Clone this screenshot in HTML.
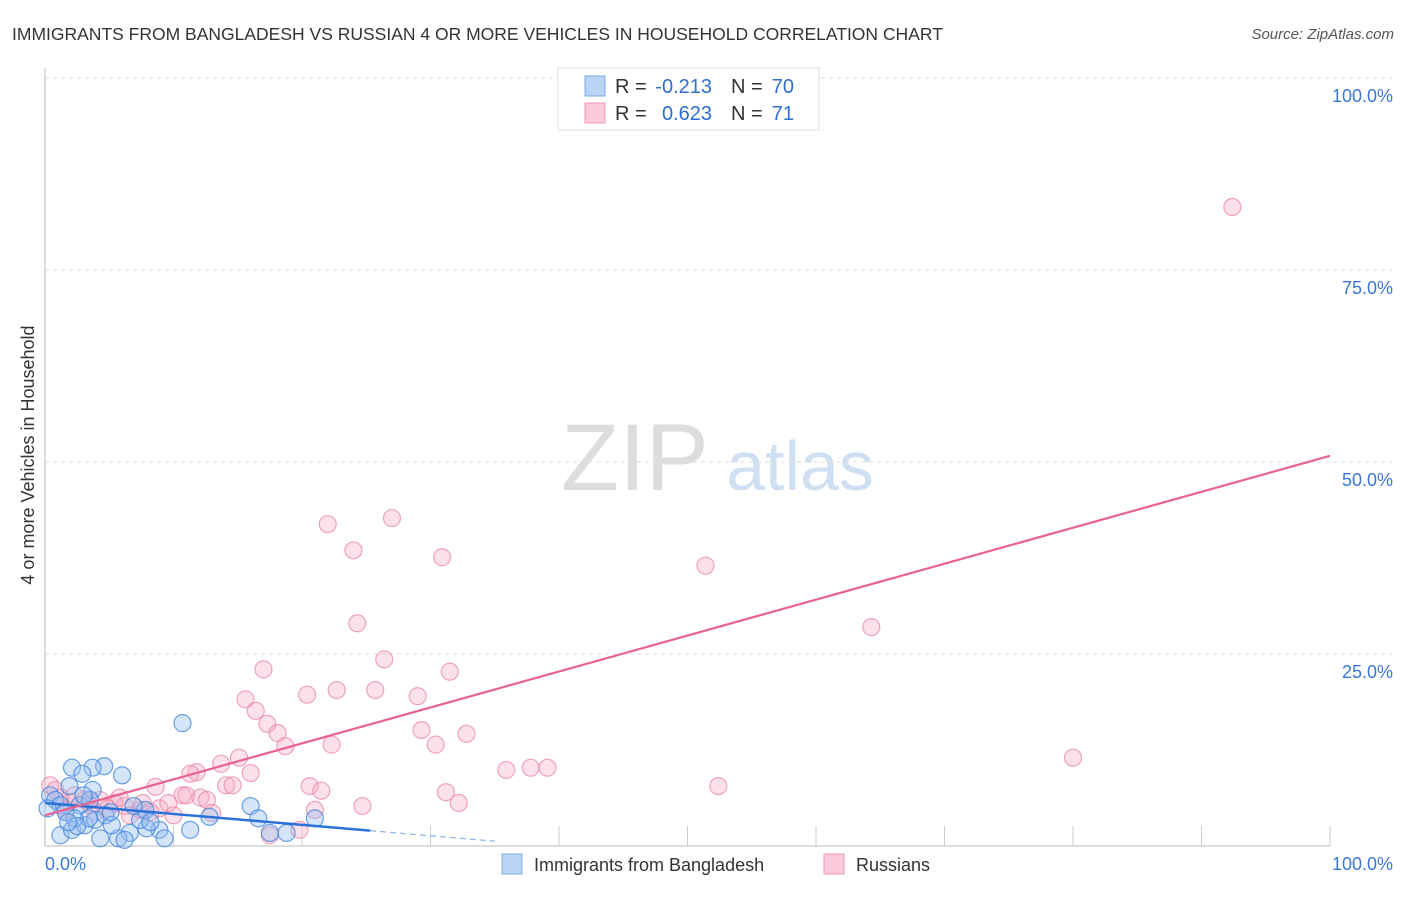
<!DOCTYPE html>
<html><head><meta charset="utf-8"><style>
body{margin:0;background:#fff;font-family:"Liberation Sans",sans-serif;}
svg text{font-family:"Liberation Sans",sans-serif;}
</style></head><body>
<svg width="1406" height="892">
<text x="12" y="40" font-size="17.5" fill="#333">IMMIGRANTS FROM BANGLADESH VS RUSSIAN 4 OR MORE VEHICLES IN HOUSEHOLD CORRELATION CHART</text>
<text x="1394" y="39" font-size="15" fill="#555" font-style="italic" text-anchor="end">Source: ZipAtlas.com</text>
<g><text x="635" y="490" font-size="95" fill="#ddd" font-family="Liberation Serif" text-anchor="middle">ZIP</text><text x="800" y="490" font-size="70" fill="#cfe0f3" text-anchor="middle">atlas</text></g>
<g id="grid"></g>
<g id="axes"></g>
<g id="marks"></g>
<text transform="translate(34,455) rotate(-90)" font-size="18" fill="#333" text-anchor="middle">4 or more Vehicles in Household</text>
<g>
<rect x="558" y="68" width="261" height="62" fill="#fff" stroke="#ddd"/>
<rect x="585" y="76" width="20" height="20" fill="#b9d3f5" stroke="#7aa9e6"/>
<rect x="585" y="103" width="20" height="20" fill="#fbcbd9" stroke="#ef9ab3"/>
<text x="615" y="93" font-size="20" fill="#333">R =</text>
<text x="712" y="93" font-size="20" fill="#2f6fd0" text-anchor="end">-0.213</text>
<text x="731" y="93" font-size="20" fill="#333">N =</text>
<text x="794" y="93" font-size="20" fill="#2f6fd0" text-anchor="end">70</text>
<text x="615" y="120" font-size="20" fill="#333">R =</text>
<text x="712" y="120" font-size="20" fill="#2f6fd0" text-anchor="end">0.623</text>
<text x="731" y="120" font-size="20" fill="#333">N =</text>
<text x="794" y="120" font-size="20" fill="#2f6fd0" text-anchor="end">71</text>
</g>
<g>
<rect x="502" y="854" width="20" height="20" fill="#b9d3f5" stroke="#7aa9e6"/>
<text x="534" y="871" font-size="18" fill="#333">Immigrants from Bangladesh</text>
<rect x="824" y="854" width="20" height="20" fill="#fbcbd9" stroke="#ef9ab3"/>
<text x="856" y="871" font-size="18" fill="#333">Russians</text>
</g>
</svg>
<script>
const yTicks=[25,50,75,100];
const yTickLabels=["25.0%","50.0%","75.0%","100.0%"];
const xTicks=[10,20,30,40,50,60,70,80,90,100];
const blueX=[10.7,4.6,2.1,3.7,2.9,6.0,1.9,3.7,0.4,0.8,1.2,0.2,1.6,2.7,3.5,16.0,16.6,21.0,12.8,11.3,18.8,17.5,8.9,7.9,6.6,5.7,4.3,1.2,2.1,3.1,3.9,4.7,5.2,3.4,2.3,7.4,7.8,6.9,9.3,6.2,2.5,1.8,5.1,8.2,3.0];
const blueY=[16.0,10.4,10.2,10.2,9.4,9.2,7.8,7.3,6.6,6.0,5.3,4.9,4.4,5.3,6.0,5.2,3.6,3.6,3.8,2.1,1.7,1.7,2.1,2.3,1.7,1.0,1.0,1.4,2.1,2.7,3.4,4.0,2.7,3.6,3.6,3.4,4.7,5.2,1.0,0.8,2.6,3.1,4.4,3.1,6.6];
const pinkX=[92.4,22.0,27.0,24.0,30.9,51.4,24.3,64.3,26.4,17.0,31.5,20.4,22.7,25.7,29.0,15.6,16.4,17.3,18.1,29.3,32.8,18.7,22.3,30.4,15.1,80.0,13.7,35.9,37.8,39.1,11.8,16.0,11.3,8.6,14.1,14.6,20.6,21.5,52.4,31.2,10.7,11.0,12.1,12.6,32.2,24.7,21.0,13.0,10.0,8.9,7.4,6.2,5.4,4.3,3.1,1.9,1.2,0.4,0.8,3.5,4.9,19.8,17.5,7.6,6.6,1.6,2.3,9.6,3.9,8.2,5.8];
const pinkY=[83.2,41.9,42.7,38.5,37.6,36.5,29.0,28.5,24.3,23.0,22.7,19.7,20.3,20.3,19.5,19.1,17.6,15.9,14.7,15.1,14.6,13.0,13.2,13.2,11.5,11.5,10.7,9.9,10.2,10.2,9.6,9.5,9.4,7.7,7.9,7.9,7.8,7.2,7.8,7.0,6.6,6.6,6.3,6.0,5.6,5.2,4.7,4.3,4.0,4.9,4.7,5.2,5.6,6.0,6.0,5.7,6.3,7.9,7.3,5.3,4.9,2.1,1.4,5.6,4.0,4.7,6.6,5.6,4.4,4.4,6.3];
const blueTrend=[5.6,2.0,25.3];
const pinkTrend=[4.0,50.8];
const NS="http://www.w3.org/2000/svg";
const sx=v=>45+v*12.85, sy=v=>846-v*7.68;
function mk(t,a,p){const e=document.createElementNS(NS,t);for(const k in a)e.setAttribute(k,a[k]);p.appendChild(e);return e;}
const grid=document.getElementById('grid'),axes=document.getElementById('axes'),marks=document.getElementById('marks');
yTicks.forEach((v,i)=>{
 const l=mk('line',{x1:45,x2:1393,y1:sy(v),y2:sy(v),stroke:'#ddd','stroke-dasharray':'4,4'},grid);
 
 
 const t=mk('text',{x:1393,y:sy(v)+24,'font-size':18,fill:'#3b78d6','text-anchor':'end'},axes);
 t.textContent=yTickLabels[i];
 
 
});
const ya=mk('line',{x1:45,x2:45,y1:68,y2:846,stroke:'#bbb'},axes);


const xa=mk('line',{x1:45,x2:1330,y1:846,y2:846,stroke:'#bbb'},axes);


xTicks.forEach(v=>{
 const l=mk('line',{x1:sx(v),x2:sx(v),y1:826,y2:846,stroke:'#ccc'},axes);
 
 
});
[[0,'0.0%','start',45],[100,'100.0%','end',1393]].forEach(d=>{
 const t=mk('text',{x:d[3],y:870,'font-size':18,fill:'#3b78d6','text-anchor':d[2]},axes);
 t.textContent=d[1];
 
 
});
pinkX.forEach((x,i)=>{
 const c=mk('circle',{cx:sx(x),cy:sy(pinkY[i]),r:8.5,fill:'rgba(246,170,195,0.35)',stroke:'rgba(232,130,160,0.7)','stroke-width':1.2},marks);
 
 
});
blueX.forEach((x,i)=>{
 const c=mk('circle',{cx:sx(x),cy:sy(blueY[i]),r:8.5,fill:'rgba(150,190,240,0.4)',stroke:'rgba(60,130,220,0.75)','stroke-width':1.2},marks);
 
 
});
const bSlope=(blueTrend[1]-blueTrend[0])/blueTrend[2];
const bl=mk('line',{x1:sx(0),y1:sy(blueTrend[0]),x2:sx(blueTrend[2]),y2:sy(blueTrend[1]),stroke:'#2a72d8','stroke-width':2.5},marks);


const bd=mk('line',{x1:sx(blueTrend[2]),y1:sy(blueTrend[1]),x2:sx(35),y2:sy(blueTrend[0]+bSlope*35),stroke:'#8fb3e6','stroke-width':1.2,'stroke-dasharray':'6,4'},marks);


const pl=mk('line',{x1:sx(0),y1:sy(pinkTrend[0]),x2:sx(100),y2:sy(pinkTrend[1]),stroke:'#e8638f','stroke-width':2.2},marks);


</script>
</body></html>
